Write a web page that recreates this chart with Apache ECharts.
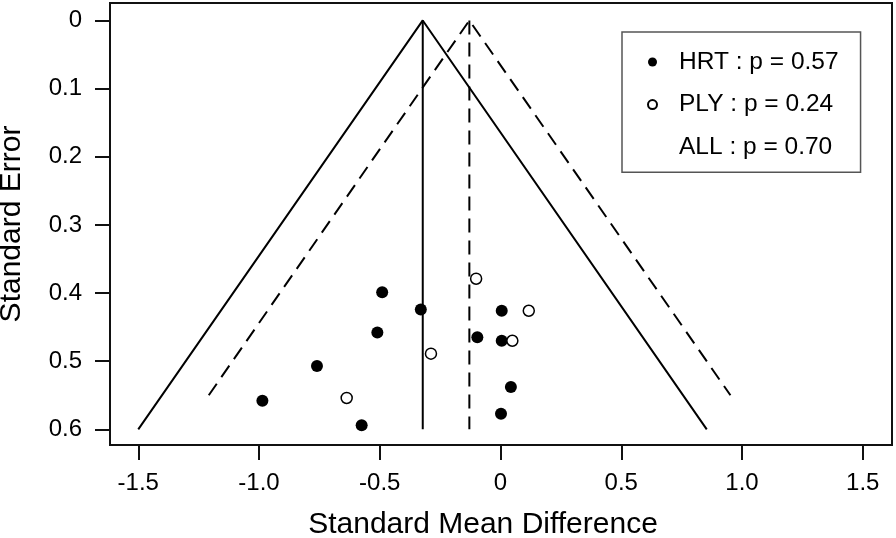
<!DOCTYPE html>
<html>
<head>
<meta charset="utf-8">
<script src="https://cdn.jsdelivr.net/npm/echarts@6/dist/echarts.min.js"></script>
<style>
html,body{margin:0;padding:0;background:#fff;}
#chart{width:896px;height:538px;}
</style>
</head>
<body>
<div id="chart"></div>
<script>
// ---- data ----
const hrtSMD = [-0.49, -0.33, -0.51, -0.76, -0.575, 0.005, -0.096, 0.005, 0.043, 0.002, -0.986];
const hrtSE  = [0.399, 0.424, 0.458, 0.507, 0.594, 0.426, 0.465, 0.470, 0.538, 0.577, 0.558];
const plySMD = [-0.101, 0.117, 0.049, -0.288, -0.637];
const plySE  = [0.379, 0.426, 0.470, 0.489, 0.554];

const solidFunnelX  = [-1.50, -0.322, 0.854];
const solidFunnelSE = [0.60, 0, 0.60];
const solidCenterX  = [-0.322, -0.322];
const solidCenterSE = [0, 0.60];

const dashFunnelX  = [-1.208, -0.129, 0.952];
const dashFunnelSE = [0.55, 0, 0.55];
const dashCenterX  = [-0.129, -0.129];
const dashCenterSE = [0, 0.60];

const xTicks = [-1.5, -1.0, -0.5, 0, 0.5, 1.0, 1.5];
const yTicks = [0, 0.1, 0.2, 0.3, 0.4, 0.5, 0.6];

const legendNames = ['HRT : p = 0.57', 'PLY : p = 0.24', 'ALL : p = 0.70'];

const zip = (xs, ys) => xs.map((x, i) => [x, ys[i]]);
const FONT = 'Liberation Sans, Arial, Helvetica, sans-serif';

const chart = echarts.init(document.getElementById('chart'), null, {renderer: 'canvas'});
chart.setOption({
  animation: false,
  backgroundColor: '#fff',
  grid: {
    left: 110, right: 4, top: 3, bottom: 93,
    containLabel: false, outerBoundsMode: 'none',
    show: true, borderColor: '#111', borderWidth: 2, backgroundColor: 'transparent'
  },
  xAxis: {
    type: 'value',
    min: -1.617, max: 1.621,
    axisLine: {show: false, onZero: false},
    splitLine: {show: false},
    axisTick: {show: true, customValues: xTicks, length: 15, lineStyle: {color: '#111', width: 2}},
    axisLabel: {
      customValues: xTicks, margin: 26, color: '#000', fontSize: 24, fontFamily: FONT,
      formatter: v => (v === 0 ? '0' : v.toFixed(1))
    },
    name: 'Standard Mean Difference',
    nameLocation: 'middle', nameGap: 65,
    nameTextStyle: {fontSize: 30, color: '#000', fontFamily: FONT, padding: [0, 36, 0, 0]}
  },
  yAxis: {
    type: 'value',
    inverse: true,
    min: -0.0256, max: 0.623,
    axisLine: {show: false, onZero: false},
    splitLine: {show: false},
    axisTick: {show: true, customValues: yTicks, length: 15, lineStyle: {color: '#111', width: 2}},
    axisLabel: {
      customValues: yTicks, margin: 28, color: '#000', fontSize: 24, fontFamily: FONT,
      formatter: v => String(v)
    },
    name: 'Standard Error',
    nameLocation: 'middle', nameGap: 83, nameRotate: 90,
    nameTextStyle: {fontSize: 30, color: '#000', fontFamily: FONT}
  },
  legend: {
    orient: 'vertical',
    left: 622, top: 32,
    padding: [17.5, 22, 12.5, 25],
    itemGap: 17.6,
    itemWidth: 9, itemHeight: 9,
    borderColor: '#555', borderWidth: 1.5,
    selectedMode: false,
    textStyle: {fontSize: 24.5, lineHeight: 24, color: '#000', fontFamily: FONT, padding: [0, 0, 0, 17]},
    data: [
      {name: legendNames[0]},
      {name: legendNames[1]},
      {name: legendNames[2], icon: 'none'}
    ]
  },
  series: [
    {
      type: 'line', name: 'solidFunnel', data: zip(solidFunnelX, solidFunnelSE),
      showSymbol: false, silent: true, z: 2,
      lineStyle: {color: '#000', width: 2, type: 'solid'}
    },
    {
      type: 'line', name: 'solidCenter', data: zip(solidCenterX, solidCenterSE),
      showSymbol: false, silent: true, z: 2,
      lineStyle: {color: '#000', width: 2, type: 'solid'}
    },
    {
      type: 'line', name: legendNames[2], data: zip(dashFunnelX, dashFunnelSE),
      showSymbol: false, silent: true, z: 2, itemStyle: {color: '#000'},
      lineStyle: {color: '#000', width: 2, type: [14, 8]}
    },
    {
      type: 'line', name: 'dashCenter', data: zip(dashCenterX, dashCenterSE),
      showSymbol: false, silent: true, z: 2,
      lineStyle: {color: '#000', width: 2, type: [14, 8]}
    },
    {
      type: 'scatter', name: legendNames[0], data: zip(hrtSMD, hrtSE),
      symbol: 'circle', symbolSize: 12, z: 5,
      itemStyle: {color: '#000', borderColor: '#000', borderWidth: 0, opacity: 1}
    },
    {
      type: 'scatter', name: legendNames[1], data: zip(plySMD, plySE),
      symbol: 'circle', symbolSize: 11, z: 5,
      itemStyle: {color: '#fff', borderColor: '#000', borderWidth: 1.5, opacity: 1}
    }
  ]
});
</script>
</body>
</html>
